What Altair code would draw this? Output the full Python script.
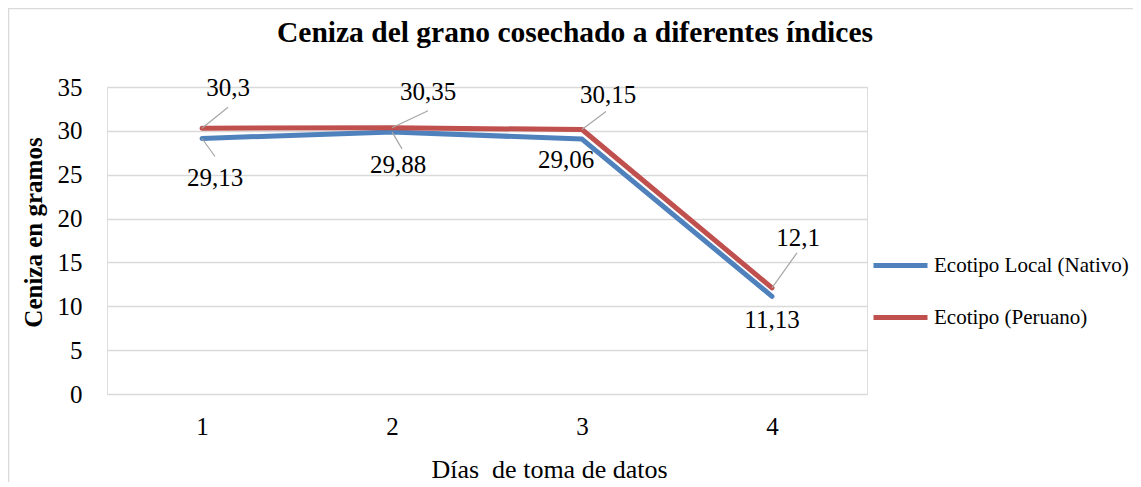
import altair as alt
import pandas as pd

# ---- data ----
dias = [1, 2, 3, 4]
local = [29.13, 29.88, 29.06, 11.13]
peruano = [30.3, 30.35, 30.15, 12.1]
series = ["Ecotipo Local (Nativo)", "Ecotipo (Peruano)"]
colors = ["#4F81BD", "#C0504D"]
titulo = "Ceniza del grano cosechado a diferentes índices"

# ---- layout ----
W, H = 760, 307
PXX = W / 4.0      # pixels per x unit (domain 0.5..4.5)
PXY = H / 35.0     # pixels per y unit (domain 0..35)
FONT = "Liberation Serif"

# label offsets (px, dy positive = downwards) relative to each point
lab_off_local = [(13, 40), (6, 33), (-16, 21), (0, 24)]
lab_off_per = [(26, -40), (36, -36), (26, -35), (26, -50)]
# leader line end offsets (px); None = no leader
lead_local = [(13, 18), (10, 17), None, None]
lead_per = [(26, -21), (36, -17), (24, -18), (25, -35)]

rows = []
for s, vals in zip(series, [local, peruano]):
    for d, v in zip(dias, vals):
        rows.append({"dia": d, "valor": v, "serie": s})
df = pd.DataFrame(rows)

lab_rows, lead_rows = [], []
for vals, offs, leads in [(local, lab_off_local, lead_local), (peruano, lab_off_per, lead_per)]:
    for d, v, o, l in zip(dias, vals, offs, leads):
        lab_rows.append({"lx": d + o[0] / PXX, "ly": v - o[1] / PXY,
                         "txt": str(v).replace(".", ",")})
        if l is not None:
            lead_rows.append({"x": d, "y": v, "x2": d + l[0] / PXX, "y2": v - l[1] / PXY})
df_lab = pd.DataFrame(lab_rows)
df_lead = pd.DataFrame(lead_rows)

xscale = alt.Scale(domain=[0.5, 4.5], nice=False, zero=False)
yscale = alt.Scale(domain=[0, 35], nice=False)

one = pd.DataFrame({"t": [titulo]})

border = alt.Chart(one).mark_rect(
    fill="white", fillOpacity=0, stroke="#D9D9D9", strokeWidth=1.5
).encode(
    x=alt.value(-98.5), x2=alt.value(W + 400),
    y=alt.value(-78.5), y2=alt.value(H + 300),
)

title = alt.Chart(one).mark_text(font=FONT, fontSize=29.5, fontWeight="bold", color="black",
                                 align="center", baseline="alphabetic").encode(
    x=alt.value(468), y=alt.value(-45), text="t:N",
)

lines = alt.Chart(df).mark_line(strokeWidth=5, strokeCap="round", strokeJoin="round").encode(
    x=alt.X("dia:Q", scale=xscale,
            axis=alt.Axis(values=dias, format="d", grid=False, domain=False, ticks=False,
                          labelFont=FONT, labelFontSize=25, labelColor="black",
                          labelPadding=20,
                          title="Días\u00a0 de toma de datos",
                          titleFont=FONT, titleFontSize=26, titleFontWeight="normal",
                          titleColor="black", titleX=442, titleY=83,
                          titleBaseline="alphabetic", titleAlign="center")),
    y=alt.Y("valor:Q", scale=yscale,
            axis=alt.Axis(values=list(range(0, 36, 5)), grid=True, gridColor="#D9D9D9",
                          gridWidth=1.5, domain=False, ticks=False,
                          labelFont=FONT, labelFontSize=25, labelColor="black",
                          labelPadding=25,
                          title="Ceniza en gramos", titleFont=FONT, titleFontSize=25,
                          titleFontWeight="bold", titleColor="black",
                          titleX=-74, titleY=145, titleBaseline="middle",
                          titleAlign="center", titleAngle=-90)),
    color=alt.Color("serie:N", sort=series,
                    scale=alt.Scale(domain=series, range=colors),
                    legend=alt.Legend(orient="none", legendX=764, legendY=149, title=None,
                                      symbolType="stroke", symbolSize=2916,
                                      symbolStrokeWidth=5, labelFont=FONT,
                                      labelFontSize=21, labelColor="black",
                                      labelOffset=4, rowPadding=12,
                                      labelLimit=400)),
    order=alt.Order("serie:N"),
)

leaders = alt.Chart(df_lead).mark_rule(color="#A6A6A6", strokeWidth=1.2).encode(
    x=alt.X("x:Q", scale=xscale), y=alt.Y("y:Q", scale=yscale),
    x2="x2:Q", y2="y2:Q",
)

labels = alt.Chart(df_lab).mark_text(font=FONT, fontSize=25, color="black",
                                     align="center", baseline="middle").encode(
    x=alt.X("lx:Q", scale=xscale), y=alt.Y("ly:Q", scale=yscale), text="txt:N",
)

chart = alt.layer(border, title, lines, leaders, labels).properties(
    width=W, height=H,
    autosize=alt.AutoSizeParams(type="none"),
    padding={"left": 99, "top": 79, "right": 266, "bottom": 88},
).configure_view(stroke=None).configure(background="white", font=FONT)

chart.save("out.html", embed_options={"renderer": "svg", "actions": False})
